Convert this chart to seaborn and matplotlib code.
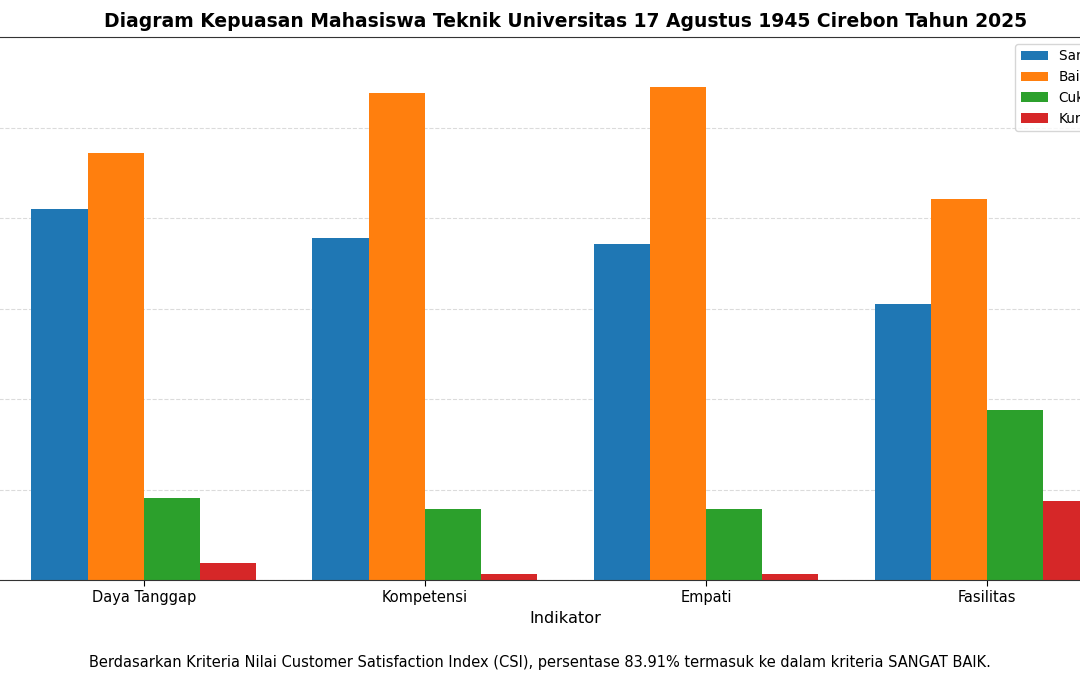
import matplotlib
matplotlib.use("Agg")
import matplotlib.pyplot as plt
import seaborn as sns
import pandas as pd

# data (persentase per kategori kepuasan)
indikator = ["Daya Tanggap", "Kompetensi", "Empati", "Fasilitas"]
kategori = ["Sangat Baik", "Baik", "Cukup", "Kurang"]
sangat_baik = [41.0, 37.8, 37.1, 30.5]
baik = [47.2, 53.8, 54.5, 42.1]
cukup = [9.1, 7.9, 7.9, 18.8]
kurang = [1.85, 0.7, 0.7, 8.7]
warna = ["#1f77b4", "#ff7f0e", "#2ca02c", "#d62728"]

rows = []
for k, vals in zip(kategori, [sangat_baik, baik, cukup, kurang]):
    for ind, v in zip(indikator, vals):
        rows.append({"Indikator": ind, "Kategori": k, "Persentase": v})
df = pd.DataFrame(rows)

sns.set_style("white")
plt.rcParams["text.color"] = "black"
plt.rcParams["axes.labelcolor"] = "black"
plt.rcParams["xtick.color"] = "black"
plt.rcParams["ytick.color"] = "black"
plt.rcParams["axes.edgecolor"] = "#333333"

fig = plt.figure(figsize=(10.8, 6.75), dpi=100)
# axes reaches past the figure edges, like the cropped original
ax = fig.add_axes([-0.0204, 0.1407, 1.088, 0.8044])

sns.barplot(data=df, x="Indikator", y="Persentase", hue="Kategori",
            order=indikator, hue_order=kategori, palette=warna,
            width=0.8, linewidth=0, saturation=1, errorbar=None, ax=ax)

ax.set_xlim(-0.59, 3.59)
ax.set_ylim(0, 60)
ax.set_yticks(range(0, 61, 10))
ax.grid(axis="y", linestyle="--", color="lightgray", alpha=0.8)
ax.set_axisbelow(True)
ax.tick_params(axis="x", bottom=True, length=4, labelsize=10.5)
ax.set_xlabel("Indikator", fontsize=11.6)
ax.set_ylabel("Persentase (%)", fontsize=11.6)
ax.set_title("Diagram Kepuasan Mahasiswa Teknik Universitas 17 Agustus 1945 Cirebon Tahun 2025",
             fontsize=13.5, fontweight="bold", pad=7)
ax.legend(loc="upper right", fontsize=9.8, title=None)

fig.text(0.5, 0.019, "Berdasarkan Kriteria Nilai Customer Satisfaction Index (CSI), persentase 83.91% "
         "termasuk ke dalam kriteria SANGAT BAIK.", ha="center", va="center", fontsize=10.5)

fig.savefig("out.png", dpi=100)
